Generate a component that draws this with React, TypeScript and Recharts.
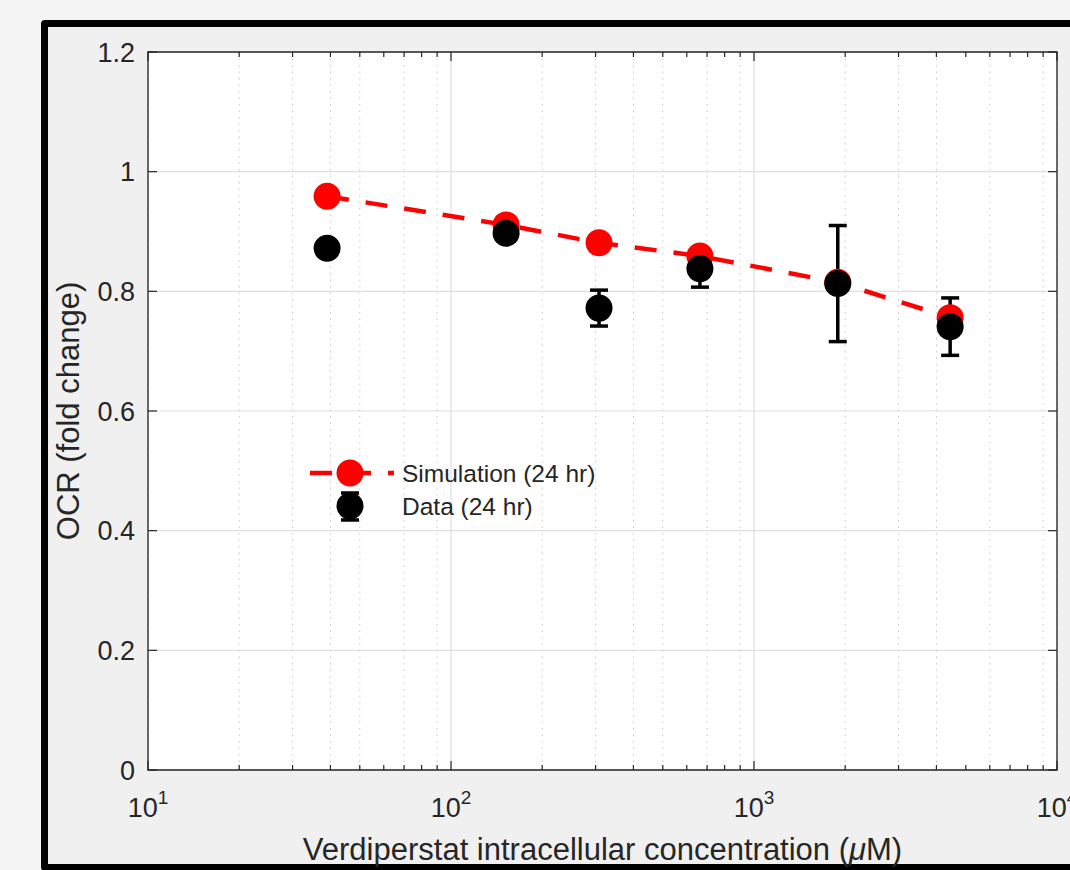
import {
  CartesianGrid,
  ComposedChart,
  ErrorBar,
  Legend,
  ReferenceArea,
  Scatter,
  XAxis,
  YAxis,
} from "recharts";

// concentration (uM) and OCR fold change
const simConc = [39, 152, 308, 663, 1890, 4440];
const simOcr = [0.959, 0.911, 0.881, 0.859, 0.815, 0.756];
const dataConc = [39, 152, 308, 663, 1890, 4440];
const dataOcr = [0.872, 0.897, 0.772, 0.838, 0.813, 0.741];
const dataErr = [0.01, 0.012, 0.03, 0.031, 0.097, 0.048];

const majorTicksX = [10, 100, 1000, 10000];
const minorTicksX = [
  20, 30, 40, 50, 60, 70, 80, 90,
  200, 300, 400, 500, 600, 700, 800, 900,
  2000, 3000, 4000, 5000, 6000, 7000, 8000, 9000,
];
const ticksY = [0, 0.2, 0.4, 0.6, 0.8, 1, 1.2];

const simPts = simConc.map((conc, i) => ({ conc, ocr: simOcr[i] }));
const dataPts = dataConc.map((conc, i) => ({ conc, ocr: dataOcr[i], err: dataErr[i] }));
const allTicksX = [...majorTicksX, ...minorTicksX].sort((a, b) => a - b);

const FONT = "'Liberation Sans', Arial, Helvetica, sans-serif";
const INK = "#262626";
const PLOT_TOP = 52;
const PLOT_BOTTOM = 770;
const PLOT_LEFT = 148;
const PLOT_RIGHT = 1057;

function XTick(props: any) {
  const { x, payload } = props;
  const v = payload.value;
  const major = majorTicksX.includes(v);
  const len = major ? 9 : 5;
  return (
    <g>
      <line x1={x} x2={x} y1={PLOT_BOTTOM} y2={PLOT_BOTTOM - len} stroke={INK} strokeWidth={1.2} />
      <line x1={x} x2={x} y1={PLOT_TOP} y2={PLOT_TOP + len} stroke={INK} strokeWidth={1.2} />
      {major && (
        <text x={x} y={817} textAnchor="middle" fontFamily={FONT} fontSize={27} fill={INK}>
          10
          <tspan dy={-13} fontSize={19}>
            {Math.round(Math.log10(v))}
          </tspan>
        </text>
      )}
    </g>
  );
}

function YTick(props: any) {
  const { y, payload } = props;
  const v = payload.value;
  return (
    <g>
      <line x1={PLOT_LEFT} x2={PLOT_LEFT + 9} y1={y} y2={y} stroke={INK} strokeWidth={1.2} />
      <line x1={PLOT_RIGHT} x2={PLOT_RIGHT - 9} y1={y} y2={y} stroke={INK} strokeWidth={1.2} />
      <text x={135} y={y + 9.5} textAnchor="end" fontFamily={FONT} fontSize={27} fill={INK}>
        {String(Math.round(v * 10) / 10)}
      </text>
    </g>
  );
}

function Dot(color: string) {
  return (props: any) => <circle cx={props.cx} cy={props.cy} r={13.5} fill={color} />;
}

function LegendBox() {
  return (
    <svg width={330} height={80} style={{ overflow: "visible" }}>
      <line x1={10} x2={94} y1={23} y2={23} stroke="#ff0000" strokeWidth={4.5} strokeDasharray="22 17" />
      <circle cx={50} cy={23} r={13.5} fill="#ff0000" />
      <text x={102} y={32} fontFamily={FONT} fontSize={24.5} fill={INK}>
        Simulation (24 hr)
      </text>
      <line x1={50} x2={50} y1={43} y2={70} stroke="#000" strokeWidth={3.5} />
      <line x1={41} x2={59} y1={43} y2={43} stroke="#000" strokeWidth={3.5} />
      <line x1={41} x2={59} y1={70} y2={70} stroke="#000" strokeWidth={3.5} />
      <circle cx={50} cy={56} r={13.5} fill="#000" />
      <text x={102} y={65} fontFamily={FONT} fontSize={24.5} fill={INK}>
        Data (24 hr)
      </text>
    </svg>
  );
}

export default function App() {
  return (
    <div
      style={{
        position: "absolute",
        left: 0,
        top: 0,
        width: 1070,
        height: 870,
        background: "#f4f4f4",
        overflow: "hidden",
      }}
    >
      <div
        style={{
          position: "absolute",
          left: 41,
          top: 20,
          width: 1100,
          height: 851,
          boxSizing: "border-box",
          border: "7.5px solid #000",
          borderRadius: 4,
          background: "#f0f0f0",
        }}
      />
      <div style={{ position: "absolute", left: 0, top: 0 }}>
        <ComposedChart width={1070} height={870} margin={{ top: 52, right: 13, left: 88, bottom: 50 }}>
          <XAxis
            xAxisId="x"
            dataKey="conc"
            type="number"
            scale="log"
            domain={[10, 10000]}
            allowDataOverflow
            ticks={allTicksX}
            interval={0}
            tick={XTick}
            tickLine={false}
            axisLine={false}
            height={50}
          />
          <XAxis xAxisId="maj" dataKey="conc" type="number" scale="log" domain={[10, 10000]} allowDataOverflow ticks={majorTicksX} hide />
          <XAxis xAxisId="min" dataKey="conc" type="number" scale="log" domain={[10, 10000]} allowDataOverflow ticks={minorTicksX} hide />
          <YAxis
            yAxisId="y"
            dataKey="ocr"
            type="number"
            domain={[0, 1.2]}
            ticks={ticksY}
            interval={0}
            tick={YTick}
            tickLine={false}
            axisLine={false}
            width={60}
          />
          <CartesianGrid xAxisId="maj" yAxisId="y" fill="#ffffff" stroke="#dfdfdf" strokeWidth={1.2} />
          <CartesianGrid
            xAxisId="min"
            yAxisId="y"
            horizontal={false}
            stroke="#c8c8c8"
            strokeWidth={1}
            strokeDasharray="1.5 5"
          />
          <ReferenceArea
            xAxisId="x"
            yAxisId="y"
            x1={10}
            x2={10000}
            y1={0}
            y2={1.2}
            fill="none"
            stroke={INK}
            strokeWidth={1.3}
            ifOverflow="visible"
          />
          <Scatter
            xAxisId="x"
            yAxisId="y"
            name="Simulation (24 hr)"
            data={simPts}
            dataKey="ocr"
            fill="#ff0000"
            line={{ stroke: "#ff0000", strokeWidth: 4.5, strokeDasharray: "22 17" }}
            shape={Dot("#ff0000")}
            isAnimationActive={false}
          />
          <Scatter
            xAxisId="x"
            yAxisId="y"
            name="Data (24 hr)"
            data={dataPts}
            dataKey="ocr"
            fill="#000000"
            shape={Dot("#000000")}
            isAnimationActive={false}
          >
            <ErrorBar dataKey="err" direction="y" width={9} stroke="#000" strokeWidth={3.5} />
          </Scatter>
          <Legend
            content={LegendBox}
            layout="horizontal"
            verticalAlign="middle"
            align="center"
            wrapperStyle={{ position: "absolute", left: 300, top: 450, width: 330, height: 80 }}
          />
          <text
            x={68}
            y={411}
            transform="rotate(-90 68 411)"
            textAnchor="middle"
            dominantBaseline="central"
            fontFamily={FONT}
            fontSize={31}
            fill={INK}
          >
            OCR (fold change)
          </text>
          <text x={602.5} y={860} textAnchor="middle" fontFamily={FONT} fontSize={31} fill={INK}>
            Verdiperstat intracellular concentration (<tspan fontStyle="italic">μ</tspan>M)
          </text>
        </ComposedChart>
      </div>
    </div>
  );
}
